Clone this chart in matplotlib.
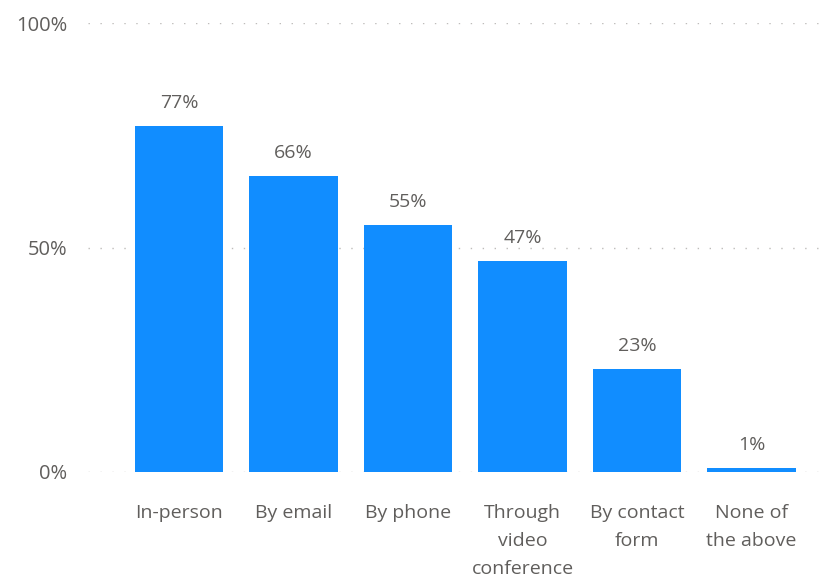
import matplotlib.pyplot as plt
import numpy as np

categories = ["In-person", "By email", "By phone", "Through\nvideo\nconference",
              "By contact\nform", "None of\nthe above"]
values = [77, 66, 55, 47, 23, 1]
yticks = [0, 50, 100]
ytick_labels = ["0%", "50%", "100%"]

bar_color = "#118DFF"
text_color = "#605E5C"
plt.rcParams['font.family'] = ['Open Sans', 'DejaVu Sans']

fig = plt.figure(figsize=(8.19, 5.83), dpi=100)
ax = fig.add_axes([0.1074, 0.1904, 0.8926, 0.7701])

x = np.arange(len(categories))
bars = ax.bar(x, values, width=0.77, color=bar_color, zorder=2)

# value labels above the bars
for b, v in zip(bars, values):
    ax.annotate(f"{v}%", (b.get_x() + b.get_width() / 2, v),
                xytext=(0, 10), textcoords="offset points",
                ha="center", va="bottom", fontsize=14, color=text_color)

ax.set_xlim(-0.795, 5.59)
ax.set_ylim(0, 100)
ax.set_yticks(yticks)
ax.set_yticklabels(ytick_labels)
ax.set_xticks(x)
ax.set_xticklabels(categories, linespacing=1.7)

ax.tick_params(axis="y", length=0, pad=15, labelsize=14.5, labelcolor=text_color)
ax.tick_params(axis="x", length=0, pad=23, labelsize=14, labelcolor=text_color)
for lab in ax.get_xticklabels():
    lab.set_verticalalignment("top")

ax.grid(axis="y", color="#BEBCBA", linestyle=(0, (1, 7.6)), linewidth=1.0, zorder=0)
for s in ax.spines.values():
    s.set_visible(False)

fig.savefig("out.png", dpi=100)
